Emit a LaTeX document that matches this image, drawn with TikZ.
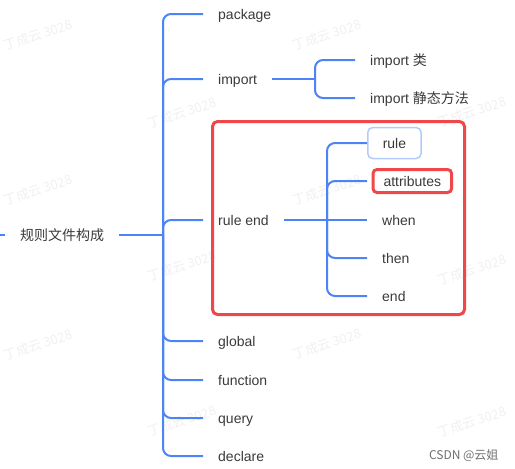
\documentclass[tikz,border=0pt]{standalone}
\usepackage{fontspec}
\setmainfont{Liberation Sans}
\newfontfamily\cjk{Noto Sans CJK SC}
\usepackage{tikz}

\definecolor{branch}{HTML}{4C84F7}
\definecolor{boxred}{HTML}{F0484A}
\definecolor{rulebox}{HTML}{B3CBFB}
\definecolor{txt}{HTML}{3A3A3A}
\definecolor{wmark}{HTML}{F0F0F0}
\definecolor{footer}{HTML}{707070}

\tikzset{
    topic/.style={anchor=west, inner xsep=15pt, inner ysep=0pt, text height=13pt,
        text depth=2pt, text=txt, font=\fontsize{14}{16}\selectfont},
    link/.style={draw=branch, line width=2pt, rounded corners=8pt},
    trunklink/.style={draw=branch, line width=2.6pt},
}

\begin{document}
\begin{tikzpicture}[x=1pt, y=-1pt]
    \def \trunk {163}
    \def \subtrunk {327}
    \useasboundingbox (0,0) rectangle (515,469);
    % faint watermarks
    \foreach \x/\y in {38/35, 327/35, 182/113, 472/112, 38/190, 327/190,
                       182/266, 472/270, 38/345, 327/344, 182/421, 472/422}
    {
      \node[rotate=18, text=wmark, font=\cjk\fontsize{13}{13}\selectfont] at (\x,\y) {丁成云 3028};
    }
    % root
    \node[topic] (root) at (5,235) {\cjk 规则文件构成};
    \coordinate (stub) at (0,235);
    \coordinate (hub) at (\trunk,235);
    \draw[link] (root.west) -- (stub);
    \draw[trunklink] (root.east) -- (hub);
    \foreach \name/\y/\label in {package/14/package, import/79/import, ruleend/220/rule end,
                                 global/341/global, function/380/function, query/418/query,
                                 declare/456/declare}
    {
      \node[topic] (\name) at (203,\y) {\label};
      \draw[link] (hub) |- (\name.west);
    }
    % import
    \coordinate (hubimport) at (315,79);
    \node[topic] (importclass) at (355,60) {import {\cjk 类}};
    \node[topic] (importstatic) at (355,98) {import {\cjk 静态方法}};
    \draw[link] (import.east) -- (hubimport);
    \draw[link] (hubimport) |- (importclass.west);
    \draw[link] (hubimport) |- (importstatic.west);
    % rule end
    \coordinate (hubrule) at (\subtrunk,220);
    \node[topic, draw=rulebox, line width=1.5pt, rounded corners=5pt, minimum height=31pt] (rule) at (367,143) {rule};
    \node[topic, inner xsep=10.5pt, draw=boxred, line width=3pt, rounded corners=4pt, minimum height=23pt] (attributes) at (371.5,181) {attributes};
    \node[topic] (when) at (367,220) {when};
    \node[topic] (then) at (367,258) {then};
    \node[topic] (end) at (367,296) {end};
    \draw[trunklink] (ruleend.east) -- (hubrule);
    \draw[link] (hubrule) |- (rule.west);
    \draw[link] (hubrule) |- ([xshift=-4.5pt]attributes.west);
    \draw[link] (hubrule) -- (when.west);
    \draw[link] (hubrule) |- (then.west);
    \draw[link] (hubrule) |- (end.west);
    \draw[boxred, line width=3pt, rounded corners=5pt] (212.5,121.5) rectangle (464.5,314.5);
    % footer
    \node[anchor=east, text=footer, font=\cjk\fontsize{12}{12}\selectfont] (csdn) at (502,455) {CSDN @云姐};
\end{tikzpicture}
\end{document}
